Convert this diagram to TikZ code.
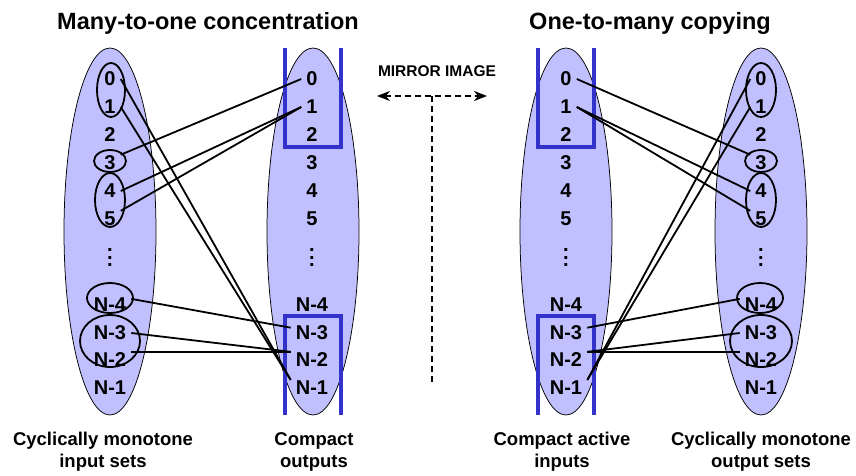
\documentclass[tikz,border=0pt]{standalone}
\usepackage{fontspec}
\setmainfont{Liberation Sans}
\usepackage{tikz}
\usetikzlibrary{shapes}
\usetikzlibrary{arrows.meta}
\definecolor{setfill}{RGB}{192,192,255}
\definecolor{brblue}{RGB}{51,51,204}
\tikzset{
  lbl/.style={inner xsep=5pt, inner ysep=1pt, font=\fontsize{20}{24}\selectfont\bfseries},
  bigset/.style={ellipse, draw, fill=setfill, line width=0.75, minimum width=92, minimum height=367, inner sep=0pt},
  grp/.style={ellipse, draw, line width=1.8, inner sep=0pt},
  bracket/.style={draw=brblue, line width=4.5},
  wire/.style={line width=1.8},
  ttl/.style={inner sep=0.75pt, font=\fontsize{23.5}{28}\selectfont\bfseries},
  captxt/.style={inner sep=0.75pt, align=center, font=\fontsize{18.5}{22}\selectfont\bfseries},
}
\newcommand{\colvdots}{\vbox{\baselineskip7.5pt\lineskiplimit0pt\hbox{.}\hbox{.}\hbox{.}}}

\begin{document}
\begin{tikzpicture}[x=1pt,y=1pt,yscale=-1,xscale=1]
\useasboundingbox (0,0) rectangle (856,476);
%Sets
\node[bigset] (setA) at (110,231.5) {};
\node[bigset] (setB) at (313,231.5) {};
\node[bigset] (setC) at (566,231.5) {};
\node[bigset] (setD) at (761,231.5) {};
%Compact brackets
\draw[bracket] (285,48) -- (285,147) -- (341,147) -- (341,48) ;
\draw[bracket] (285,415) -- (285,316) -- (341,316) -- (341,415) ;
\draw[bracket] (538,48) -- (538,147) -- (594,147) -- (594,48) ;
\draw[bracket] (538,415) -- (538,316) -- (594,316) -- (594,415) ;
%Input groups
\node[grp, minimum width=28, minimum height=54] (gA01) at (111,90) {};
\node[grp, minimum width=32, minimum height=22] (gA3) at (110,161) {};
\node[grp, minimum width=30, minimum height=54] (gA45) at (110,200) {};
\node[grp, minimum width=46, minimum height=30] (gAN4) at (110,298) {};
\node[grp, minimum width=60, minimum height=52] (gAN32) at (110,341) {};
%Output groups
\node[grp, minimum width=30, minimum height=54] (gD01) at (761,90) {};
\node[grp, minimum width=32, minimum height=22] (gD3) at (761,161) {};
\node[grp, minimum width=30, minimum height=54] (gD45) at (761,200) {};
\node[grp, minimum width=46, minimum height=30] (gDN4) at (760,298) {};
\node[grp, minimum width=62, minimum height=52] (gDN32) at (761,341) {};
% Text Node
\node[lbl] (a0) at (110,79) {0};
\node[lbl] (a1) at (110,107) {1};
\node[lbl] (a2) at (110,135) {2};
\node[lbl] (a3) at (110,163) {3};
\node[lbl] (a4) at (110,191) {4};
\node[lbl] (a5) at (110,219) {5};
\node[lbl] (adots) at (110,258) {\colvdots};
\node[lbl] (aN4) at (110,305) {N-4};
\node[lbl] (aN3) at (110,333) {N-3};
\node[lbl] (aN2) at (110,360) {N-2};
\node[lbl] (aN1) at (110,388) {N-1};
% Text Node
\node[lbl] (b0) at (312,79) {0};
\node[lbl] (b1) at (312,107) {1};
\node[lbl] (b2) at (312,135) {2};
\node[lbl] (b3) at (312,163) {3};
\node[lbl] (b4) at (312,191) {4};
\node[lbl] (b5) at (312,219) {5};
\node[lbl] (bdots) at (312,258) {\colvdots};
\node[lbl] (bN4) at (312,305) {N-4};
\node[lbl] (bN3) at (312,333) {N-3};
\node[lbl] (bN2) at (312,360) {N-2};
\node[lbl] (bN1) at (312,388) {N-1};
% Text Node
\node[lbl] (c0) at (566,79) {0};
\node[lbl] (c1) at (566,107) {1};
\node[lbl] (c2) at (566,135) {2};
\node[lbl] (c3) at (566,163) {3};
\node[lbl] (c4) at (566,191) {4};
\node[lbl] (c5) at (566,219) {5};
\node[lbl] (cdots) at (566,258) {\colvdots};
\node[lbl] (cN4) at (566,305) {N-4};
\node[lbl] (cN3) at (566,333) {N-3};
\node[lbl] (cN2) at (566,360) {N-2};
\node[lbl] (cN1) at (566,388) {N-1};
% Text Node
\node[lbl] (d0) at (761,79) {0};
\node[lbl] (d1) at (761,107) {1};
\node[lbl] (d2) at (761,135) {2};
\node[lbl] (d3) at (761,163) {3};
\node[lbl] (d4) at (761,191) {4};
\node[lbl] (d5) at (761,219) {5};
\node[lbl] (ddots) at (761,258) {\colvdots};
\node[lbl] (dN4) at (761,305) {N-4};
\node[lbl] (dN3) at (761,333) {N-3};
\node[lbl] (dN2) at (761,360) {N-2};
\node[lbl] (dN1) at (761,388) {N-1};
%Concentration wires
\draw[wire] (b0.west) -- (a3.north east) ;
\draw[wire] (b1.west) -- (a4.east) ;
\draw[wire] (b1.west) -- (a5.north east) ;
\draw[wire] (a0.east) -- (bN1.north west) ;
\draw[wire] (a1.east) -- (bN1.north west) ;
\draw[wire] (aN4.16) -- (bN3.166) ;
\draw[wire] (aN3.east) -- (bN2.north west) ;
\draw[wire] (aN2.north east) -- (bN2.north west) ;
%Copying wires
\draw[wire] (c0.east) -- (d3.north west) ;
\draw[wire] (c1.east) -- (d4.west) ;
\draw[wire] (c1.east) -- (d5.north west) ;
\draw[wire] (d0.west) -- (cN1.north east) ;
\draw[wire] (d1.west) -- (cN1.north east) ;
\draw[wire] (dN4.164) -- (cN3.14) ;
\draw[wire] (dN3.west) -- (cN2.north east) ;
\draw[wire] (dN2.north west) -- (cN2.north east) ;
% Text Node
\node[ttl] (ttlA) at (208,23) {Many-to-one concentration};
\node[ttl] (ttlB) at (650,23) {One-to-many copying};
% Text Node
\node[captxt] (capA) at (103,452) {Cyclically monotone\\input sets};
\node[captxt] (capB) at (314,452) {Compact\\outputs};
\node[captxt] (capC) at (562,452) {Compact active\\inputs};
\node[captxt] (capD) at (761,452) {Cyclically monotone\\output sets};
%Mirror
\node[inner sep=0.75pt, font=\fontsize{15.5}{18}\selectfont\bfseries] (mirror) at (437,71) {MIRROR IMAGE};
\coordinate (mirL) at (377,96);
\coordinate (mirR) at (487,96);
\coordinate (mirM) at (432,96);
\coordinate (mirB) at (432,383);
\draw[line width=1.8, dash pattern=on 6pt off 4pt, {Stealth[length=13pt,width=10pt]}-{Stealth[length=13pt,width=10pt]}] (mirL) -- (mirR) ;
\draw[line width=1.8, dash pattern=on 6pt off 4pt] (mirM) -- (mirB) ;
\end{tikzpicture}
\end{document}
